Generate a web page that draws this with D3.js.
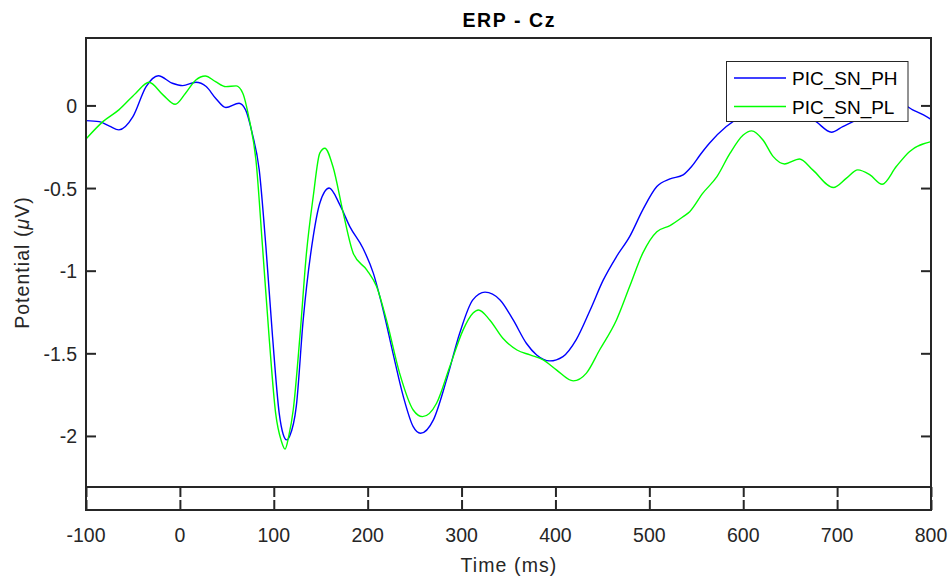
<!DOCTYPE html>
<html>
<head>
<meta charset="utf-8">
<script src="https://cdn.jsdelivr.net/npm/d3@7/dist/d3.min.js"></script>
<style>
  html, body { margin: 0; padding: 0; background: #fff; }
  svg { display: block; font-family: "Liberation Sans", Arial, Helvetica, sans-serif; }
</style>
</head>
<body>
<svg id="chart" width="949" height="581"></svg>
<script>
// ---- data ----
const seriesNames = ["PIC_SN_PH", "PIC_SN_PL"];
const seriesColors = ["#0000ff", "#00ff00"];

const phTimes = [-100,-86,-75,-65,-50,-36,-23,-8,3,17,28,38,49,63,70,77,84.5,91.6,98.7,105.8,110,113.6,117,124,131.3,142,149,159,170.4,181,195,206,216.5,227,238,248.5,256.3,270,284,298,312,325,341,355,369,380,394,408,422,437,451,465,479,493,508,522,536,545,554,564,582,600,620,640,660,678,694,706,717,735,755,770,780,792,800];
const phValues = [-0.092,-0.098,-0.125,-0.148,-0.068,0.114,0.180,0.134,0.120,0.140,0.114,0.044,-0.013,0.013,-0.027,-0.168,-0.39,-0.854,-1.40,-1.863,-1.99,-2.024,-2.0,-1.82,-1.30,-0.794,-0.592,-0.50,-0.602,-0.733,-0.864,-1.015,-1.238,-1.50,-1.762,-1.944,-1.984,-1.903,-1.661,-1.379,-1.177,-1.130,-1.177,-1.298,-1.439,-1.510,-1.546,-1.52,-1.419,-1.238,-1.056,-0.915,-0.794,-0.632,-0.491,-0.445,-0.42,-0.37,-0.30,-0.229,-0.128,-0.06,-0.02,-0.01,-0.03,-0.10,-0.162,-0.128,-0.098,-0.04,0.0,0.005,-0.025,-0.057,-0.084];

const plTimes = [-100,-82,-65,-47,-33,-18,-5,6,17,27,38,49,60,67,74,81,88,95,102,108,112,116,120.7,127.8,134.8,142,149,154.4,163,174,184.6,199,209.5,220,234,248.5,258.4,273.4,287.5,301.7,312,318,330,344,359,373,387,401,419,433,447,465,479,493,508,522,536,543,557,572,586,600,609,621,632,644,660,674,696,710,722,735,748,763,777,800];
const plValues = [-0.203,-0.098,-0.027,0.074,0.140,0.064,0.007,0.074,0.154,0.178,0.144,0.114,0.118,0.074,-0.088,-0.33,-0.854,-1.40,-1.863,-2.03,-2.08,-2.0,-1.843,-1.40,-0.894,-0.552,-0.289,-0.259,-0.37,-0.652,-0.894,-0.995,-1.096,-1.298,-1.62,-1.843,-1.883,-1.802,-1.58,-1.358,-1.258,-1.238,-1.298,-1.409,-1.48,-1.51,-1.54,-1.60,-1.667,-1.62,-1.48,-1.298,-1.096,-0.894,-0.764,-0.727,-0.673,-0.643,-0.531,-0.431,-0.289,-0.179,-0.154,-0.209,-0.31,-0.354,-0.324,-0.39,-0.497,-0.44,-0.39,-0.42,-0.477,-0.37,-0.28,-0.219];

const xTicks = [-100,0,100,200,300,400,500,600,700,800];
const yTicks = [0,-0.5,-1,-1.5,-2];
const yTickLabels = ["0","-0.5","-1","-1.5","-2"];
const titleText = "ERP - Cz";
const xLabelText = "Time (ms)";

// ---- layout ----
const L = 86, R = 931, T = 38, B = 487, STRIP_B = 510;
const axisColor = "#262626";
const FS = 19.5;

const svg = d3.select("#chart");
const x = d3.scaleLinear().domain([-100, 800]).range([L, R]);
const y = d3.scaleLinear().domain([-2.309, 0.408]).range([B, T]);

svg.append("defs").append("clipPath").attr("id", "clip")
  .append("rect").attr("x", L).attr("y", T).attr("width", R - L).attr("height", B - T);

// lines
const line = d3.line().x(d => x(d[0])).y(d => y(d[1])).curve(d3.curveMonotoneX);
const series = [
  d3.zip(phTimes, phValues),
  d3.zip(plTimes, plValues)
];
const g = svg.append("g").attr("clip-path", "url(#clip)");
series.forEach((s, i) => {
  g.append("path").datum(s).attr("d", line)
    .attr("fill", "none").attr("stroke", seriesColors[i]).attr("stroke-width", 1.4)
    .attr("stroke-linejoin", "round");
});

// main box
svg.append("rect").attr("x", L).attr("y", T).attr("width", R - L).attr("height", B - T)
  .attr("fill", "none").attr("stroke", axisColor).attr("stroke-width", 2);

// y ticks (left & right, inward)
const yAxisL = d3.axisLeft(y).tickValues(yTicks).tickSize(-10).tickPadding(9)
  .tickFormat((d, i) => yTickLabels[i]);
const gyl = svg.append("g").attr("transform", `translate(${L},0)`).call(yAxisL);
gyl.select(".domain").remove();
gyl.selectAll(".tick line").attr("stroke", axisColor).attr("stroke-width", 2);
gyl.selectAll(".tick text").attr("fill", axisColor).attr("font-size", FS)
  .attr("font-family", "Liberation Sans, Arial, sans-serif").attr("dy", "0.36em");

const yAxisR = d3.axisRight(y).tickValues(yTicks).tickSize(-10).tickFormat("");
const gyr = svg.append("g").attr("transform", `translate(${R},0)`).call(yAxisR);
gyr.select(".domain").remove();
gyr.selectAll(".tick line").attr("stroke", axisColor).attr("stroke-width", 2);

// x strip
svg.append("rect").attr("x", L).attr("y", B).attr("width", R - L).attr("height", STRIP_B - B)
  .attr("fill", "none").attr("stroke", axisColor).attr("stroke-width", 2);
const xAxisTop = d3.axisBottom(x).tickValues(xTicks).tickSize(10).tickFormat("");
const gxt = svg.append("g").attr("transform", `translate(0,${B})`).call(xAxisTop);
gxt.select(".domain").remove();
gxt.selectAll(".tick line").attr("stroke", axisColor).attr("stroke-width", 2);
const xAxisBot = d3.axisTop(x).tickValues(xTicks).tickSize(10).tickFormat("");
const gxb = svg.append("g").attr("transform", `translate(0,${STRIP_B})`).call(xAxisBot);
gxb.select(".domain").remove();
gxb.selectAll(".tick line").attr("stroke", axisColor).attr("stroke-width", 2);

// x tick labels
svg.append("g").selectAll("text").data(xTicks).join("text")
  .attr("x", d => x(d)).attr("y", 541.5).attr("text-anchor", "middle")
  .attr("font-size", FS).attr("fill", axisColor).text(d => d);

// title
svg.append("text").attr("x", (L + R) / 2 + 0.8).attr("y", 27.3).attr("text-anchor", "middle")
  .attr("font-size", 19.5).attr("font-weight", "bold").attr("letter-spacing", 1.6)
  .attr("fill", "#000").text(titleText);

// axis labels
svg.append("text").attr("x", (L + R) / 2 + 0.5).attr("y", 571.7).attr("text-anchor", "middle")
  .attr("font-size", FS).attr("letter-spacing", 1.1).attr("fill", axisColor).text(xLabelText);

const yl = svg.append("text").attr("transform", `translate(29,${(T + B) / 2}) rotate(-90)`)
  .attr("text-anchor", "middle").attr("font-size", FS).attr("letter-spacing", 1.05)
  .attr("fill", axisColor);
yl.append("tspan").text("Potential (");
yl.append("tspan").attr("font-style", "italic").text("\u03bc");
yl.append("tspan").text("V)");

// legend
const lg = svg.append("g");
lg.append("rect").attr("x", 726.5).attr("y", 61.5).attr("width", 181.5).attr("height", 60)
  .attr("fill", "#fff").attr("stroke", axisColor).attr("stroke-width", 1);
seriesNames.forEach((n, i) => {
  const yy = 78 + i * 28.5;
  lg.append("line").attr("x1", 734).attr("x2", 786).attr("y1", yy).attr("y2", yy)
    .attr("stroke", seriesColors[i]).attr("stroke-width", 1.4);
  lg.append("text").attr("x", 792).attr("y", yy + 7).attr("font-size", 19)
    .attr("fill", "#000").text(n);
});
</script>
</body>
</html>
